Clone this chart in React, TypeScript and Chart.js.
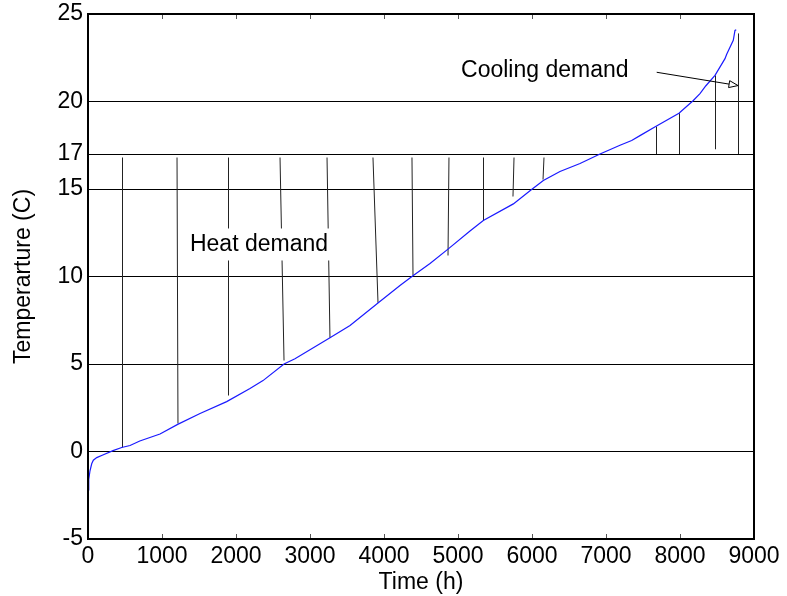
import React, { useEffect, useRef } from "react";
import { Chart, registerables } from "chart.js";

Chart.register(...registerables);

// Sorted hourly outdoor temperature (duration curve)
const hours = [0, 10, 27, 50, 72, 118, 200, 338, 455, 568, 700, 973, 1212, 1514, 1874, 2189, 2365, 2649, 2797, 3270, 3541, 3923, 4216, 4396, 4622, 4869, 5162, 5342, 5748, 5973, 6153, 6378, 6649, 6919, 7189, 7347, 7459, 7671, 7986, 8180, 8270, 8350, 8473, 8608, 8631, 8720, 8743, 8760];
const temps = [-2.2, -1.6, -1.1, -0.7, -0.5, -0.35, -0.2, 0.05, 0.23, 0.34, 0.6, 1.0, 1.55, 2.17, 2.85, 3.6, 4.05, 5.0, 5.3, 6.5, 7.2, 8.5, 9.49, 10.06, 10.74, 11.58, 12.6, 13.2, 14.15, 14.9, 15.49, 16.0, 16.46, 17.0, 17.5, 17.77, 18.05, 18.57, 19.33, 20.06, 20.45, 20.9, 21.49, 22.45, 22.7, 23.5, 24.06, 24.1];

// Heating demand markers: from just below the 17 C base down to the curve
const heatTopTemp = 16.8;
const heatTopHours = [459, 1203, 1892, 2595, 3230, 3851, 4378, 4878, 5338, 5757, 6162];
const heatFootHours = [459, 1216, 1892, 2649, 3270, 3919, 4392, 4865, 5338, 5743, 6149];
const heatFootTemps = [0.23, 1.6, 3.2, 5.2, 6.5, 8.5, 10.06, 11.2, 13.2, 14.57, 15.54];

// Cooling demand markers: from the base up to the curve
const coolHours = [7671, 7986, 8473, 8788];
const coolBaseTemps = [17.0, 17.0, 17.27, 17.0];
const coolTopTemps = [18.57, 19.33, 21.49, 23.89];

const xTicks = [0, 1000, 2000, 3000, 4000, 5000, 6000, 7000, 8000, 9000];
const yTicks = [-5, 0, 5, 10, 15, 17, 20, 25];

const heatLabel = { text: "Heat demand", x: 1378, y: 11.83 };
const coolLabel = { text: "Cooling demand", x: 5041, y: 21.77 };
const coolArrow = { from: [7685, 21.67], to: [8784, 20.91] };

const FONT = "'Liberation Sans', Arial, Helvetica, sans-serif";
const FONT_SIZE = 23;

// Snap a pixel coordinate so 1px strokes stay crisp
const crisp = (v: number) => Math.round(v) + 0.5;

const overlayPlugin = {
  id: "overlay",
  beforeDatasetsDraw(chart: any) {
    const { ctx, scales } = chart;
    const xs = scales.x;
    const ys = scales.y;
    ctx.save();
    ctx.strokeStyle = "#222";
    ctx.lineWidth = 1;
    const seg = (xa: number, ya: number, xb: number, yb: number) => {
      const pxa = xs.getPixelForValue(xa);
      const pxb = xs.getPixelForValue(xb);
      const same = Math.abs(pxa - pxb) < 0.8;
      ctx.beginPath();
      ctx.moveTo(same ? crisp(pxa) : pxa, ys.getPixelForValue(ya));
      ctx.lineTo(same ? crisp(pxa) : pxb, ys.getPixelForValue(yb));
      ctx.stroke();
    };
    heatTopHours.forEach((h, i) => seg(h, heatTopTemp, heatFootHours[i], heatFootTemps[i]));
    coolHours.forEach((h, i) => seg(h, coolBaseTemps[i], h, coolTopTemps[i]));
    ctx.restore();
  },
  afterDatasetsDraw(chart: any) {
    const { ctx, chartArea: a, scales } = chart;
    const xs = scales.x;
    const ys = scales.y;
    ctx.save();
    ctx.font = `${FONT_SIZE}px ${FONT}`;
    ctx.textBaseline = "middle";
    ctx.textAlign = "left";

    // Heat demand label on a white patch
    const hx = xs.getPixelForValue(heatLabel.x);
    const hy = ys.getPixelForValue(heatLabel.y);
    const hw = ctx.measureText(heatLabel.text).width;
    ctx.fillStyle = "#fff";
    ctx.fillRect(hx - 5, hy - 16, hw + 10, 32);
    ctx.fillStyle = "#000";
    ctx.fillText(heatLabel.text, hx, hy);

    // Cooling demand label and arrow
    const cx = xs.getPixelForValue(coolLabel.x);
    const cy = ys.getPixelForValue(coolLabel.y);
    ctx.fillText(coolLabel.text, cx, cy);

    const x1 = xs.getPixelForValue(coolArrow.from[0]);
    const y1 = ys.getPixelForValue(coolArrow.from[1]);
    const x2 = xs.getPixelForValue(coolArrow.to[0]);
    const y2 = ys.getPixelForValue(coolArrow.to[1]);
    const ang = Math.atan2(y2 - y1, x2 - x1);
    const len = 9;
    const half = 3.5;
    const bx = x2 - len * Math.cos(ang);
    const by = y2 - len * Math.sin(ang);
    ctx.strokeStyle = "#000";
    ctx.lineWidth = 1;
    ctx.beginPath();
    ctx.moveTo(x1, y1);
    ctx.lineTo(bx, by);
    ctx.stroke();
    ctx.beginPath();
    ctx.moveTo(x2, y2);
    ctx.lineTo(bx + half * Math.sin(ang), by - half * Math.cos(ang));
    ctx.lineTo(bx - half * Math.sin(ang), by + half * Math.cos(ang));
    ctx.closePath();
    ctx.fillStyle = "#fff";
    ctx.fill();
    ctx.stroke();

    // Inward tick marks on bottom and top edges
    ctx.strokeStyle = "#555";
    ctx.lineWidth = 1;
    xTicks.forEach((v) => {
      const px = crisp(xs.getPixelForValue(v));
      ctx.beginPath();
      ctx.moveTo(px, a.bottom);
      ctx.lineTo(px, a.bottom - 5);
      ctx.moveTo(px, a.top);
      ctx.lineTo(px, a.top + 5);
      ctx.stroke();
    });

    // Axes box
    ctx.strokeStyle = "#000";
    ctx.lineWidth = 2;
    ctx.strokeRect(a.left, a.top, a.right - a.left, a.bottom - a.top);
    ctx.restore();
  },
};

export default function App() {
  const ref = useRef<HTMLCanvasElement | null>(null);

  useEffect(() => {
    if (!ref.current) return;
    const chart = new Chart(ref.current, {
      type: "line",
      data: {
        datasets: [
          {
            label: "temperature",
            data: hours.map((h, i) => ({ x: h, y: temps[i] })),
            borderColor: "#1a1aff",
            borderWidth: 1.2,
            pointRadius: 0,
            tension: 0,
          },
        ],
      },
      options: {
        animation: false,
        responsive: false,
        devicePixelRatio: 1,
        layout: { padding: { left: 0, right: 33, top: 14, bottom: 0 } },
        plugins: {
          legend: { display: false },
          tooltip: { enabled: false },
        },
        scales: {
          x: {
            type: "linear",
            min: 0,
            max: 9000,
            afterBuildTicks: (s: any) => {
              s.ticks = xTicks.map((v) => ({ value: v }));
            },
            afterFit: (s: any) => {
              s.height = 57;
            },
            grid: { display: false, drawTicks: false },
            border: { display: false },
            ticks: {
              color: "#000",
              padding: 4,
              maxRotation: 0,
              autoSkip: false,
              callback: (v: any) => String(v),
              font: { family: FONT, size: FONT_SIZE },
            },
            title: {
              display: true,
              text: "Time (h)",
              color: "#000",
              font: { family: FONT, size: FONT_SIZE },
              padding: { top: 4, bottom: 0 },
            },
          },
          y: {
            type: "linear",
            min: -5,
            max: 25,
            afterBuildTicks: (s: any) => {
              s.ticks = yTicks.map((v) => ({ value: v }));
            },
            afterFit: (s: any) => {
              s.width = 88;
              s.paddingTop = 0;
              s.paddingBottom = 0;
            },
            grid: { color: "#000", lineWidth: 1, drawTicks: false },
            border: { display: false },
            ticks: {
              color: "#000",
              padding: 5,
              autoSkip: false,
              callback: (v: any) => String(v),
              font: { family: FONT, size: FONT_SIZE },
            },
            title: {
              display: true,
              text: "Temperarture (C)",
              color: "#000",
              font: { family: FONT, size: FONT_SIZE },
              padding: { top: 10, bottom: 0 },
            },
          },
        },
      },
      plugins: [overlayPlugin],
    });
    return () => chart.destroy();
  }, []);

  return (
    <div style={{ position: "fixed", left: 0, top: 0, width: 787, height: 596, background: "#fff" }}>
      <canvas ref={ref} width={787} height={596} style={{ display: "block" }} />
    </div>
  );
}
